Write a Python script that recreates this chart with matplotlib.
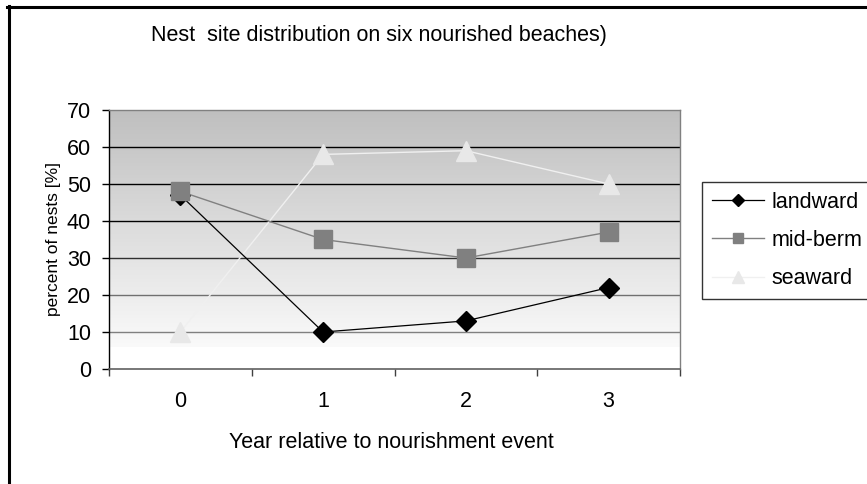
import numpy as np
import matplotlib
matplotlib.use("Agg")
import matplotlib.pyplot as plt
from matplotlib.lines import Line2D
from matplotlib.colors import LinearSegmentedColormap

plt.rcParams['font.family'] = ['Liberation Sans', 'DejaVu Sans']

# data
years = ["0", "1", "2", "3"]
landward = [47, 10, 13, 22]
mid_berm = [48, 35, 30, 37]
seaward = [10, 58, 59, 50]
y_ticks = [0, 10, 20, 30, 40, 50, 60, 70]

W, H = 867, 484
fig = plt.figure(figsize=(W / 100, H / 100), dpi=100)
ax = fig.add_axes([109 / W, (H - 369) / H, 571 / W, 259 / H])

x = np.arange(len(years))
ax.set_xlim(-0.5, len(years) - 0.5)
ax.set_ylim(0, 70)

# gray gradient background (dark at top, fading to white near bottom)
cmap = LinearSegmentedColormap.from_list("bg", ["#fafafa", "#bfbfbf"])
grad = np.linspace(0, 1, 256).reshape(-1, 1)
ax.imshow(grad, cmap=cmap, aspect="auto", origin="lower",
          extent=[-0.5, len(years) - 0.5, 6, 70], zorder=0)

# horizontal grid lines
grid_colors = {10: "#808080", 20: "#707070", 30: "#303030", 40: "#000000",
               50: "#000000", 60: "#000000"}
for v, c in grid_colors.items():
    ax.axhline(v, color=c, lw=1.0, zorder=1)

ax.plot(x, landward, color="#000000", lw=0.9, marker="D", ms=9.7,
        mfc="#000000", mec="#000000", zorder=3)
ax.plot(x, mid_berm, color="#808080", lw=1.0, marker="s", ms=13.5,
        mfc="#808080", mec="#808080", zorder=4)
ax.plot(x, seaward, color="#f0f0f0", lw=1.0, marker="^", ms=15,
        mfc="#e8e8e8", mec="#e8e8e8", zorder=2)

# axes styling
for s in ["top", "right"]:
    ax.spines[s].set_color("#808080")
    ax.spines[s].set_linewidth(1.0)
ax.spines["bottom"].set_color("#606060")
ax.spines["left"].set_color("#000000")
ax.spines["bottom"].set_linewidth(1.2)
ax.spines["left"].set_linewidth(1.0)

fs = 15.5
ax.set_yticks(y_ticks)
ax.set_yticklabels([str(t) for t in y_ticks], fontsize=fs)
ax.tick_params(axis="y", direction="out", length=5, width=1, pad=8)

ax.set_xticks(np.arange(-0.5, len(years), 1.0))
ax.set_xticklabels([])
ax.set_xticks(x, minor=True)
ax.set_xticklabels(years, minor=True, fontsize=fs)
ax.tick_params(axis="x", which="major", direction="out", length=5, width=1,
               color="#404040")
ax.tick_params(axis="x", which="minor", length=0, pad=16)

ax.set_ylabel("percent of nests [%]", fontsize=12.5, labelpad=4)
fig.text(391 / W, 1 - 442 / H, "Year relative to nourishment event",
         ha="center", va="center", fontsize=fs)
fig.text(379 / W, 1 - 36 / H, "Nest  site distribution on six nourished beaches)",
         ha="center", va="center", fontsize=fs)

handles = [
    Line2D([], [], color="#000000", lw=0.9, marker="D", ms=6, mfc="#000000", mec="#000000"),
    Line2D([], [], color="#808080", lw=1.0, marker="s", ms=7, mfc="#808080", mec="#808080"),
    Line2D([], [], color="#f0f0f0", lw=1.0, marker="^", ms=8, mfc="#e8e8e8", mec="#e8e8e8"),
]
leg = fig.legend(handles, ["landward", "mid-berm", "seaward"],
                 loc="upper left", bbox_to_anchor=(702 / W, 1 - 182 / H),
                 fontsize=fs, frameon=True, fancybox=False, shadow=False,
                 handlelength=2.45, handletextpad=0.33, borderpad=0.45,
                 labelspacing=0.8, borderaxespad=0)
leg.get_frame().set_edgecolor("#000000")
leg.get_frame().set_linewidth(1.0)

# outer chart frame: top and left edges only
fig.add_artist(Line2D([7 / W, 1], [1 - 6.5 / H, 1 - 6.5 / H], color="black",
                      lw=2.2, transform=fig.transFigure))
fig.add_artist(Line2D([8.5 / W, 8.5 / W], [0, 1 - 5.5 / H], color="black",
                      lw=2.2, transform=fig.transFigure))

fig.savefig("out.png", dpi=100)
